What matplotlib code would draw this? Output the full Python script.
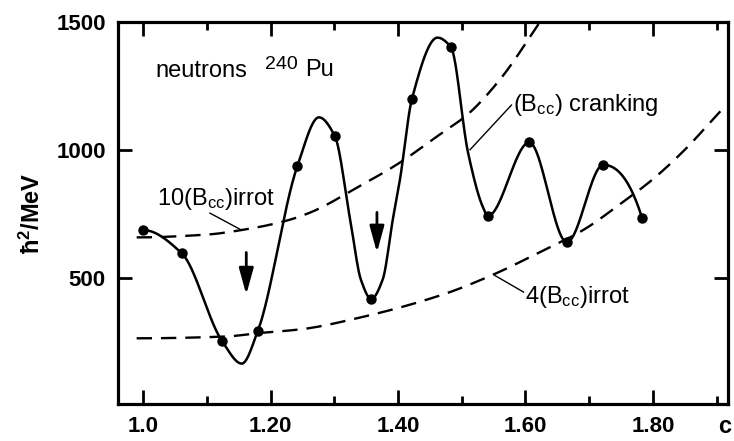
import numpy as np
import matplotlib
matplotlib.use('Agg')
import matplotlib.pyplot as plt

# calculated points (filled circles)
c_pts = [1.000, 1.061, 1.124, 1.180, 1.242, 1.301, 1.358, 1.422, 1.483, 1.541, 1.606, 1.665, 1.722, 1.783]
b_pts = [686, 594, 251, 290, 935, 1053, 416, 1200, 1402, 741, 1029, 638, 941, 733]

# solid curve as drawn: the points plus the extremes / steep parts
c_curve = [1.000, 1.061, 1.124, 1.155, 1.180, 1.242, 1.276, 1.301, 1.325, 1.342, 1.358, 1.376,
           1.392, 1.403, 1.422, 1.462, 1.483, 1.510, 1.533, 1.541, 1.606, 1.665, 1.722, 1.783]
b_curve = [686, 594, 251, 163, 290, 935, 1127, 1053, 726, 490, 416, 492,
           729, 882, 1200, 1439, 1402, 988, 777, 741, 1029, 638, 941, 733]

# 10 (Bcc) irrot, dashed upper
c_up = [0.99, 1.10, 1.16, 1.22, 1.26, 1.34, 1.40, 1.46, 1.51, 1.56, 1.62, 1.64]
b_up = [657, 668, 688, 719, 752, 858, 945, 1050, 1140, 1275, 1490, 1565]

# 4 (Bcc) irrot, dashed lower
c_lo = [0.99, 1.13, 1.18, 1.25, 1.34, 1.47, 1.55, 1.62, 1.69, 1.75, 1.80, 1.85, 1.90, 1.915]
b_lo = [262, 269, 282, 298, 343, 433, 512, 596, 685, 790, 885, 1000, 1135, 1175]

# the two arrows
arrow_c = [1.162, 1.367]
arrow_from = [598, 755]
arrow_to = [433, 598]

xticks = [1.0, 1.2, 1.4, 1.6, 1.8]
xticklabels = ["1.0", "1.20", "1.40", "1.60", "1.80"]
xminor = [1.1, 1.3, 1.5, 1.7, 1.9]
yticks = [500, 1000, 1500]


def pchip(x, y, xs):
    # monotone cubic hermite, keeps the extremes where they were read
    x = np.asarray(x, float)
    y = np.asarray(y, float)
    h = np.diff(x)
    d = np.diff(y) / h
    m = np.zeros_like(y)
    for k in range(1, len(x) - 1):
        if d[k - 1] * d[k] > 0:
            w1 = 2 * h[k] + h[k - 1]
            w2 = h[k] + 2 * h[k - 1]
            m[k] = (w1 + w2) / (w1 / d[k - 1] + w2 / d[k])

    def end(h0, h1, d0, d1):
        v = ((2 * h0 + h1) * d0 - h0 * d1) / (h0 + h1)
        if np.sign(v) != np.sign(d0):
            v = 0.0
        elif np.sign(d0) != np.sign(d1) and abs(v) > abs(3 * d0):
            v = 3 * d0
        return v

    m[0] = end(h[0], h[1], d[0], d[1])
    m[-1] = end(h[-1], h[-2], d[-1], d[-2])
    i = np.clip(np.searchsorted(x, xs) - 1, 0, len(x) - 2)
    t = (xs - x[i]) / h[i]
    h00 = 2 * t**3 - 3 * t**2 + 1
    h10 = t**3 - 2 * t**2 + t
    h01 = -2 * t**3 + 3 * t**2
    h11 = t**3 - t**2
    return h00 * y[i] + h10 * h[i] * m[i] + h01 * y[i + 1] + h11 * h[i] * m[i + 1]


def main():
    plt.rcParams['font.family'] = ['Liberation Sans', 'DejaVu Sans']
    plt.rcParams['mathtext.fontset'] = 'custom'
    plt.rcParams['mathtext.rm'] = 'Liberation Sans'
    plt.rcParams['mathtext.bf'] = 'Liberation Sans:bold'
    plt.rcParams['mathtext.default'] = 'regular'

    fig = plt.figure(figsize=(7.34, 4.41), dpi=100)
    ax = fig.add_axes([0.161, 0.084, 0.831, 0.866])

    xs = np.linspace(c_curve[0], c_curve[-1], 800)
    ax.plot(xs, pchip(c_curve, b_curve, xs), color='black', lw=1.8)
    ax.plot(c_pts, b_pts, 'o', color='black', ms=6.5)

    dash = (0, (6.5, 3.8))
    xu = np.linspace(c_up[0], c_up[-1], 400)
    ax.plot(xu, pchip(c_up, b_up, xu), color='black', lw=1.7, ls=dash)
    xl = np.linspace(c_lo[0], c_lo[-1], 400)
    ax.plot(xl, pchip(c_lo, b_lo, xl), color='black', lw=1.7, ls=dash)

    for c, y0, y1 in zip(arrow_c, arrow_from, arrow_to):
        ax.annotate('', xy=(c, y1), xytext=(c, y0),
                    arrowprops=dict(arrowstyle='-|>,head_length=0.8,head_width=0.22',
                                    color='black', lw=2, mutation_scale=20,
                                    shrinkA=0, shrinkB=0))

    # labels
    ax.text(1.019, 1283, "neutrons", fontsize=17)
    ax.text(1.191, 1318, "240", fontsize=14)
    ax.text(1.254, 1290, "Pu", fontsize=17)

    ax.text(1.022, 783, r"10(B$_{cc}$)irrot", fontsize=17)
    ax.plot([1.105, 1.155], [752, 685], color='black', lw=1)

    ax.text(1.580, 1150, r"(B$_{cc}$) cranking", fontsize=17)
    ax.plot([1.578, 1.513], [1175, 1000], color='black', lw=1)

    ax.text(1.599, 402, r"4(B$_{cc}$)irrot", fontsize=17)
    ax.plot([1.597, 1.552], [443, 508], color='black', lw=1)

    ax.set_xlim(0.961, 1.918)
    ax.set_ylim(5, 1500)
    ax.set_xticks(xticks)
    ax.set_xticklabels(xticklabels)
    ax.set_xticks(xminor, minor=True)
    ax.set_yticks(yticks)
    ax.tick_params(which='both', direction='in', top=True, right=True, width=2)
    ax.tick_params(which='major', length=10, labelsize=16)
    ax.tick_params(axis='x', which='major', pad=9)
    ax.tick_params(axis='y', which='major', pad=9)
    ax.tick_params(which='minor', length=6)
    for lab in ax.get_xticklabels() + ax.get_yticklabels():
        lab.set_fontweight('bold')
    for s in ax.spines.values():
        s.set_linewidth(2.3)

    ax.set_ylabel(r"ħ$^{\mathbf{2}}$/MeV", fontsize=17, fontweight='bold', labelpad=8)
    ax.text(0.995, -0.076, "c", transform=ax.transAxes, fontsize=17,
            fontweight='bold', ha='center', va='baseline')

    fig.savefig('out.png', dpi=100)


if __name__ == '__main__':
    main()
